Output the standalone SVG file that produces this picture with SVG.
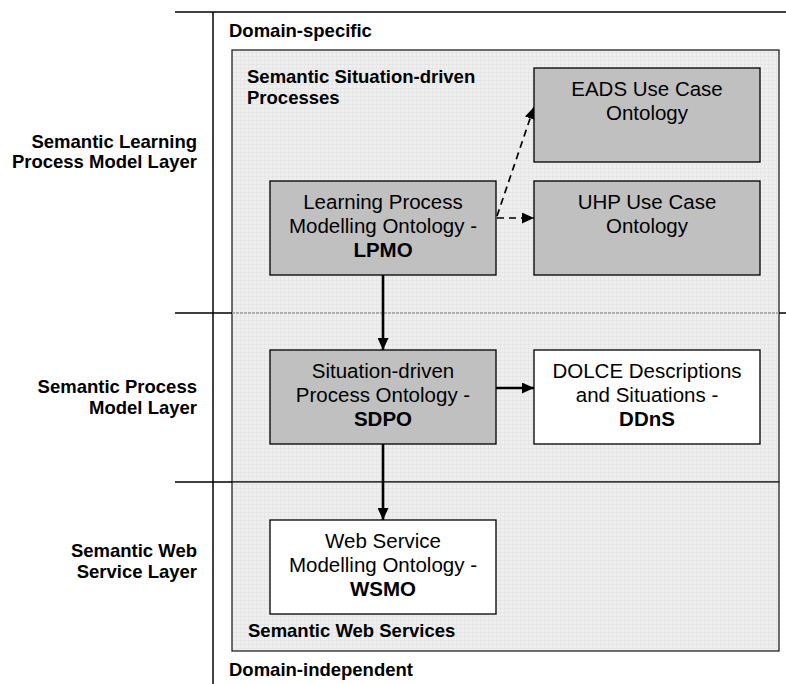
<svg xmlns="http://www.w3.org/2000/svg" width="786" height="684" viewBox="0 0 786 684">
<style>
.lbl{font-family:"Liberation Sans",Arial,sans-serif;font-weight:bold;font-size:18.5px;fill:#000}
.lr{text-anchor:end}
.nt{font-family:"Liberation Sans",Arial,sans-serif;font-size:20.5px;fill:#000;text-anchor:middle}
.nb{font-weight:bold}
.node-g{fill:#c0c0c0;stroke:#000;stroke-width:1.3}
.node-w{fill:#fff;stroke:#000;stroke-width:1.3}
.area{fill:url(#grid);stroke:#222;stroke-width:1.3}
.rule{stroke:#000;stroke-width:1.5;fill:none}
.conn{stroke:#000;stroke-width:2.6;fill:none}
.dash{stroke:#000;stroke-width:1.7;fill:none;stroke-dasharray:7 5}
</style>
<defs>
<pattern id="grid" width="4" height="4" patternUnits="userSpaceOnUse">
<rect width="4" height="4" fill="#efefef"/>
<path d="M0 0.5H4M0.5 0V4" stroke="#e6e6e6" stroke-width="1"/>
</pattern>
<marker id="ah" viewBox="0 0 12 11" refX="12" refY="5.5" markerWidth="12" markerHeight="11" markerUnits="userSpaceOnUse" orient="auto">
<path d="M0 0L12 5.5L0 11Z" fill="#000"/>
</marker>
<marker id="ahs" viewBox="0 0 12 11" refX="12" refY="5.5" markerWidth="12" markerHeight="11" markerUnits="userSpaceOnUse" orient="auto">
<path d="M0 0L12 5.5L0 11Z" fill="#000"/>
</marker>
</defs>
<rect width="786" height="684" fill="#fff"/>

<g id="areas">
<rect class="area" x="232" y="50" width="547" height="432"/>
<rect class="area" x="232" y="482" width="547" height="169"/>
<line x1="232" y1="313" x2="779" y2="313" stroke="#9a9a9a" stroke-width="1.3" stroke-dasharray="3 1"/>
</g>

<g id="rules">
<line class="rule" x1="175" y1="12" x2="786" y2="12"/>
<line class="rule" x1="213" y1="12" x2="213" y2="684"/>
<line class="rule" x1="175" y1="313" x2="232" y2="313" stroke-width="2.2"/>
<line class="rule" x1="779" y1="313" x2="786" y2="313" stroke-width="2.2"/>
<line class="rule" x1="175" y1="482" x2="232" y2="482"/>
</g>

<g id="labels">
<text class="lbl" x="229" y="37">Domain-specific</text>
<text class="lbl" x="247" y="83">Semantic Situation-driven</text>
<text class="lbl" x="247" y="104">Processes</text>
<text class="lbl" x="248" y="637">Semantic Web Services</text>
<text class="lbl" x="229" y="676">Domain-independent</text>
<text class="lbl lr" x="197" y="148">Semantic Learning</text>
<text class="lbl lr" x="197" y="168">Process Model Layer</text>
<text class="lbl lr" x="197" y="393">Semantic Process</text>
<text class="lbl lr" x="197" y="414">Model Layer</text>
<text class="lbl lr" x="197" y="557">Semantic Web</text>
<text class="lbl lr" x="197" y="578">Service Layer</text>
</g>

<g id="connectors">
<line class="conn" x1="383" y1="275" x2="383" y2="350" marker-end="url(#ahs)"/>
<line class="conn" x1="383" y1="444" x2="383" y2="520" marker-end="url(#ahs)"/>
<line class="conn" x1="496" y1="388" x2="534" y2="388" marker-end="url(#ahs)"/>
<line class="dash" x1="497" y1="218" x2="534" y2="218" marker-end="url(#ah)"/>
<line class="dash" x1="497" y1="216" x2="534" y2="107" marker-end="url(#ah)"/>
</g>

<g id="node-eads">
<rect class="node-g" x="534" y="68" width="226" height="94"/>
<text class="nt" x="647" y="96">EADS Use Case</text>
<text class="nt" x="647" y="120">Ontology</text>
</g>
<g id="node-uhp">
<rect class="node-g" x="534" y="181" width="226" height="94"/>
<text class="nt" x="647" y="209">UHP Use Case</text>
<text class="nt" x="647" y="233">Ontology</text>
</g>
<g id="node-lpmo">
<rect class="node-g" x="270" y="181" width="226" height="94"/>
<text class="nt" x="383" y="209">Learning Process</text>
<text class="nt" x="383" y="233">Modelling Ontology -</text>
<text class="nt nb" x="383" y="257">LPMO</text>
</g>
<g id="node-sdpo">
<rect class="node-g" x="270" y="350" width="226" height="94"/>
<text class="nt" x="383" y="378">Situation-driven</text>
<text class="nt" x="383" y="402">Process Ontology -</text>
<text class="nt nb" x="383" y="426">SDPO</text>
</g>
<g id="node-ddns">
<rect class="node-w" x="534" y="350" width="226" height="94"/>
<text class="nt" x="647" y="378">DOLCE Descriptions</text>
<text class="nt" x="647" y="402">and Situations -</text>
<text class="nt nb" x="647" y="426">DDnS</text>
</g>
<g id="node-wsmo">
<rect class="node-w" x="270" y="520" width="226" height="94"/>
<text class="nt" x="383" y="548">Web Service</text>
<text class="nt" x="383" y="572">Modelling Ontology -</text>
<text class="nt nb" x="383" y="596">WSMO</text>
</g>
</svg>
